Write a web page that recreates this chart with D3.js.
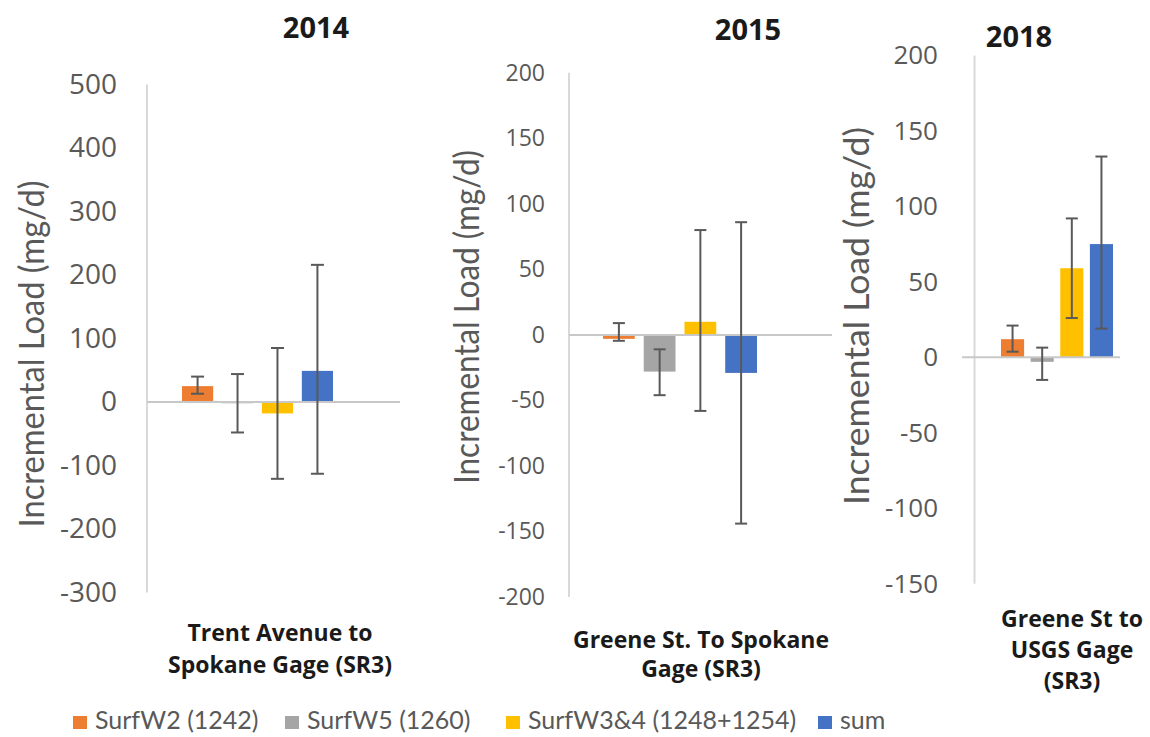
<!DOCTYPE html>
<html>
<head>
<meta charset="utf-8">
<script src="https://cdn.jsdelivr.net/npm/d3@7"></script>
<style>
  html, body { margin: 0; padding: 0; background: #fff; }
  svg { display: block; }
</style>
</head>
<body>
<div id="chart"></div>
<script>
// ==========================================
// INCREMENTAL LOAD - three yearly panels
// ==========================================

// --- data ---
const years = ["2014", "2015", "2018"];
const reachLabels = [
    ["Trent Avenue to", "Spokane Gage (SR3)"],
    ["Greene St. To Spokane", "Gage (SR3)"],
    ["Greene St to", "USGS Gage", "(SR3)"]
];
const seriesNames = ["SurfW2 (1242)", "SurfW5 (1260)", "SurfW3&4 (1248+1254)", "sum"];

const load2014 = [25, -2, -18, 49];
const low2014  = [13, -48, -121, -113];
const high2014 = [40, 44, 85, 216];

const load2015 = [-3, -28, 10, -29];
const low2015  = [-4.5, -46, -58, -144];
const high2015 = [9, -11, 80, 86];

const load2018 = [12, -3, 59, 75];
const low2018  = [3.7, -15, 26, 19];
const high2018 = [21, 6.4, 92, 133];

const ticks2014 = [-300, -200, -100, 0, 100, 200, 300, 400, 500];
const ticks2015 = [-200, -150, -100, -50, 0, 50, 100, 150, 200];
const ticks2018 = [-150, -100, -50, 0, 50, 100, 150, 200];

const yTitle = "Incremental Load (mg/d)";

// --- styles ---
const colors = ["#ED7D31", "#A5A5A5", "#FFC000", "#4472C4"];
const textGrey = "#595959";

// --- layout per panel (positions only) ---
const panels = [
    { load: load2014, low: low2014, high: high2014, ticks: ticks2014,
      axisX: 147, zeroEnd: 400, yTop: 84.5, yBottom: 592.5, bars: [182, 333],
      tickX: 117, tickFont: 28, titleX: 316, titleY: 38,
      yLabX: 44, yLabY: 354, yLabLen: 347, catX: 280, catY: [641, 673], cap: 13 },
    { load: load2015, low: low2015, high: high2015, ticks: ticks2015,
      axisX: 569, zeroEnd: 832, yTop: 72.8, yBottom: 597, bars: [603, 757],
      tickX: 545, tickFont: 23, titleX: 748, titleY: 40,
      yLabX: 479, yLabY: 317, yLabLen: 334, catX: 701, catY: [648, 677], cap: 12 },
    { load: load2018, low: low2018, high: high2018, ticks: ticks2018,
      axisX: 974.5, zeroStart: 962, zeroEnd: 1120, yTop: 55.4, yBottom: 583.7, bars: [1001, 1113],
      tickX: 938, tickFont: 26, titleX: 1019, titleY: 47,
      yLabX: 869, yLabY: 316, yLabLen: 378, catX: 1072, catY: [627, 658, 689], cap: 12 }
];

const width = 1150, height = 737;

const svg = d3.select("#chart").append("svg")
    .attr("width", width)
    .attr("height", height);

panels.forEach((p, i) => {
    const g = svg.append("g");

    const y = d3.scaleLinear()
        .domain(d3.extent(p.ticks))
        .range([p.yBottom, p.yTop]);

    const x = d3.scaleBand()
        .domain(seriesNames)
        .range(p.bars)
        .paddingInner(0.22);

    // axe vertical (ligne seule)
    g.append("line")
        .attr("x1", p.axisX).attr("x2", p.axisX)
        .attr("y1", y.range()[1]).attr("y2", y.range()[0])
        .attr("stroke", "#D9D9D9")
        .attr("stroke-width", 2);

    // labels de l'axe Y (tiret simple comme Excel)
    const yAxis = d3.axisLeft(y)
        .tickValues(p.ticks)
        .tickFormat(d => String(d))
        .tickSize(0).tickPadding(0);
    const ax = g.append("g")
        .attr("transform", `translate(${p.tickX},0)`)
        .call(yAxis);
    ax.select(".domain").remove();
    ax.selectAll("text")
        .attr("font-family", "'Open Sans', sans-serif")
        .attr("font-size", p.tickFont)
        .attr("fill", textGrey);

    // bars
    g.selectAll("rect.bar")
        .data(p.load)
        .join("rect")
        .attr("class", "bar")
        .attr("x", (d, k) => x(seriesNames[k]))
        .attr("width", x.bandwidth())
        .attr("y", d => y(Math.max(0, d)))
        .attr("height", d => Math.abs(y(d) - y(0)))
        .attr("fill", (d, k) => colors[k]);

    // ligne du zéro
    g.append("line")
        .attr("x1", p.zeroStart || p.axisX).attr("x2", p.zeroEnd)
        .attr("y1", y(0)).attr("y2", y(0))
        .attr("stroke", "#C8C8C8")
        .attr("stroke-width", 2);

    // barres d'erreur
    p.load.forEach((d, k) => {
        const cx = x(seriesNames[k]) + x.bandwidth() / 2;
        const eg = g.append("g")
            .attr("stroke", "#595959")
            .attr("stroke-width", 2);
        eg.append("line")
            .attr("x1", cx).attr("x2", cx)
            .attr("y1", y(p.low[k])).attr("y2", y(p.high[k]));
        [p.low[k], p.high[k]].forEach(v => {
            eg.append("line")
                .attr("x1", cx - p.cap / 2).attr("x2", cx + p.cap / 2)
                .attr("y1", y(v)).attr("y2", y(v));
        });
    });

    // titre (année)
    g.append("text")
        .attr("x", p.titleX)
        .attr("y", p.titleY)
        .attr("text-anchor", "middle")
        .attr("font-family", "'Open Sans', sans-serif")
        .attr("font-weight", 700)
        .attr("font-size", 29)
        .attr("fill", "#1a1a1a")
        .text(years[i]);

    // titre axe Y
    g.append("text")
        .attr("transform", `translate(${p.yLabX},${p.yLabY}) rotate(-90)`)
        .attr("text-anchor", "middle")
        .attr("font-family", "Lato, sans-serif")
        .attr("font-size", 34)
        .attr("fill", textGrey)
        .attr("textLength", p.yLabLen)
        .attr("lengthAdjust", "spacingAndGlyphs")
        .text(yTitle);

    // label de catégorie
    reachLabels[i].forEach((line, j) => {
        g.append("text")
            .attr("x", p.catX)
            .attr("y", p.catY[j])
            .attr("text-anchor", "middle")
            .attr("font-family", "'Open Sans', sans-serif")
            .attr("font-weight", 700)
            .attr("font-size", 23)
            .attr("fill", "#1a1a1a")
            .text(line);
    });
});

// --- légende ---
const legendX = [73, 285, 506, 818];
const legend = svg.append("g");
seriesNames.forEach((name, k) => {
    legend.append("rect")
        .attr("x", legendX[k]).attr("y", 716)
        .attr("width", 14).attr("height", 13)
        .attr("fill", colors[k]);
    legend.append("text")
        .attr("x", legendX[k] + 22)
        .attr("y", 729)
        .attr("font-family", "Lato, sans-serif")
        .attr("font-size", 25)
        .attr("fill", textGrey)
        .text(name);
});
</script>
</body>
</html>
